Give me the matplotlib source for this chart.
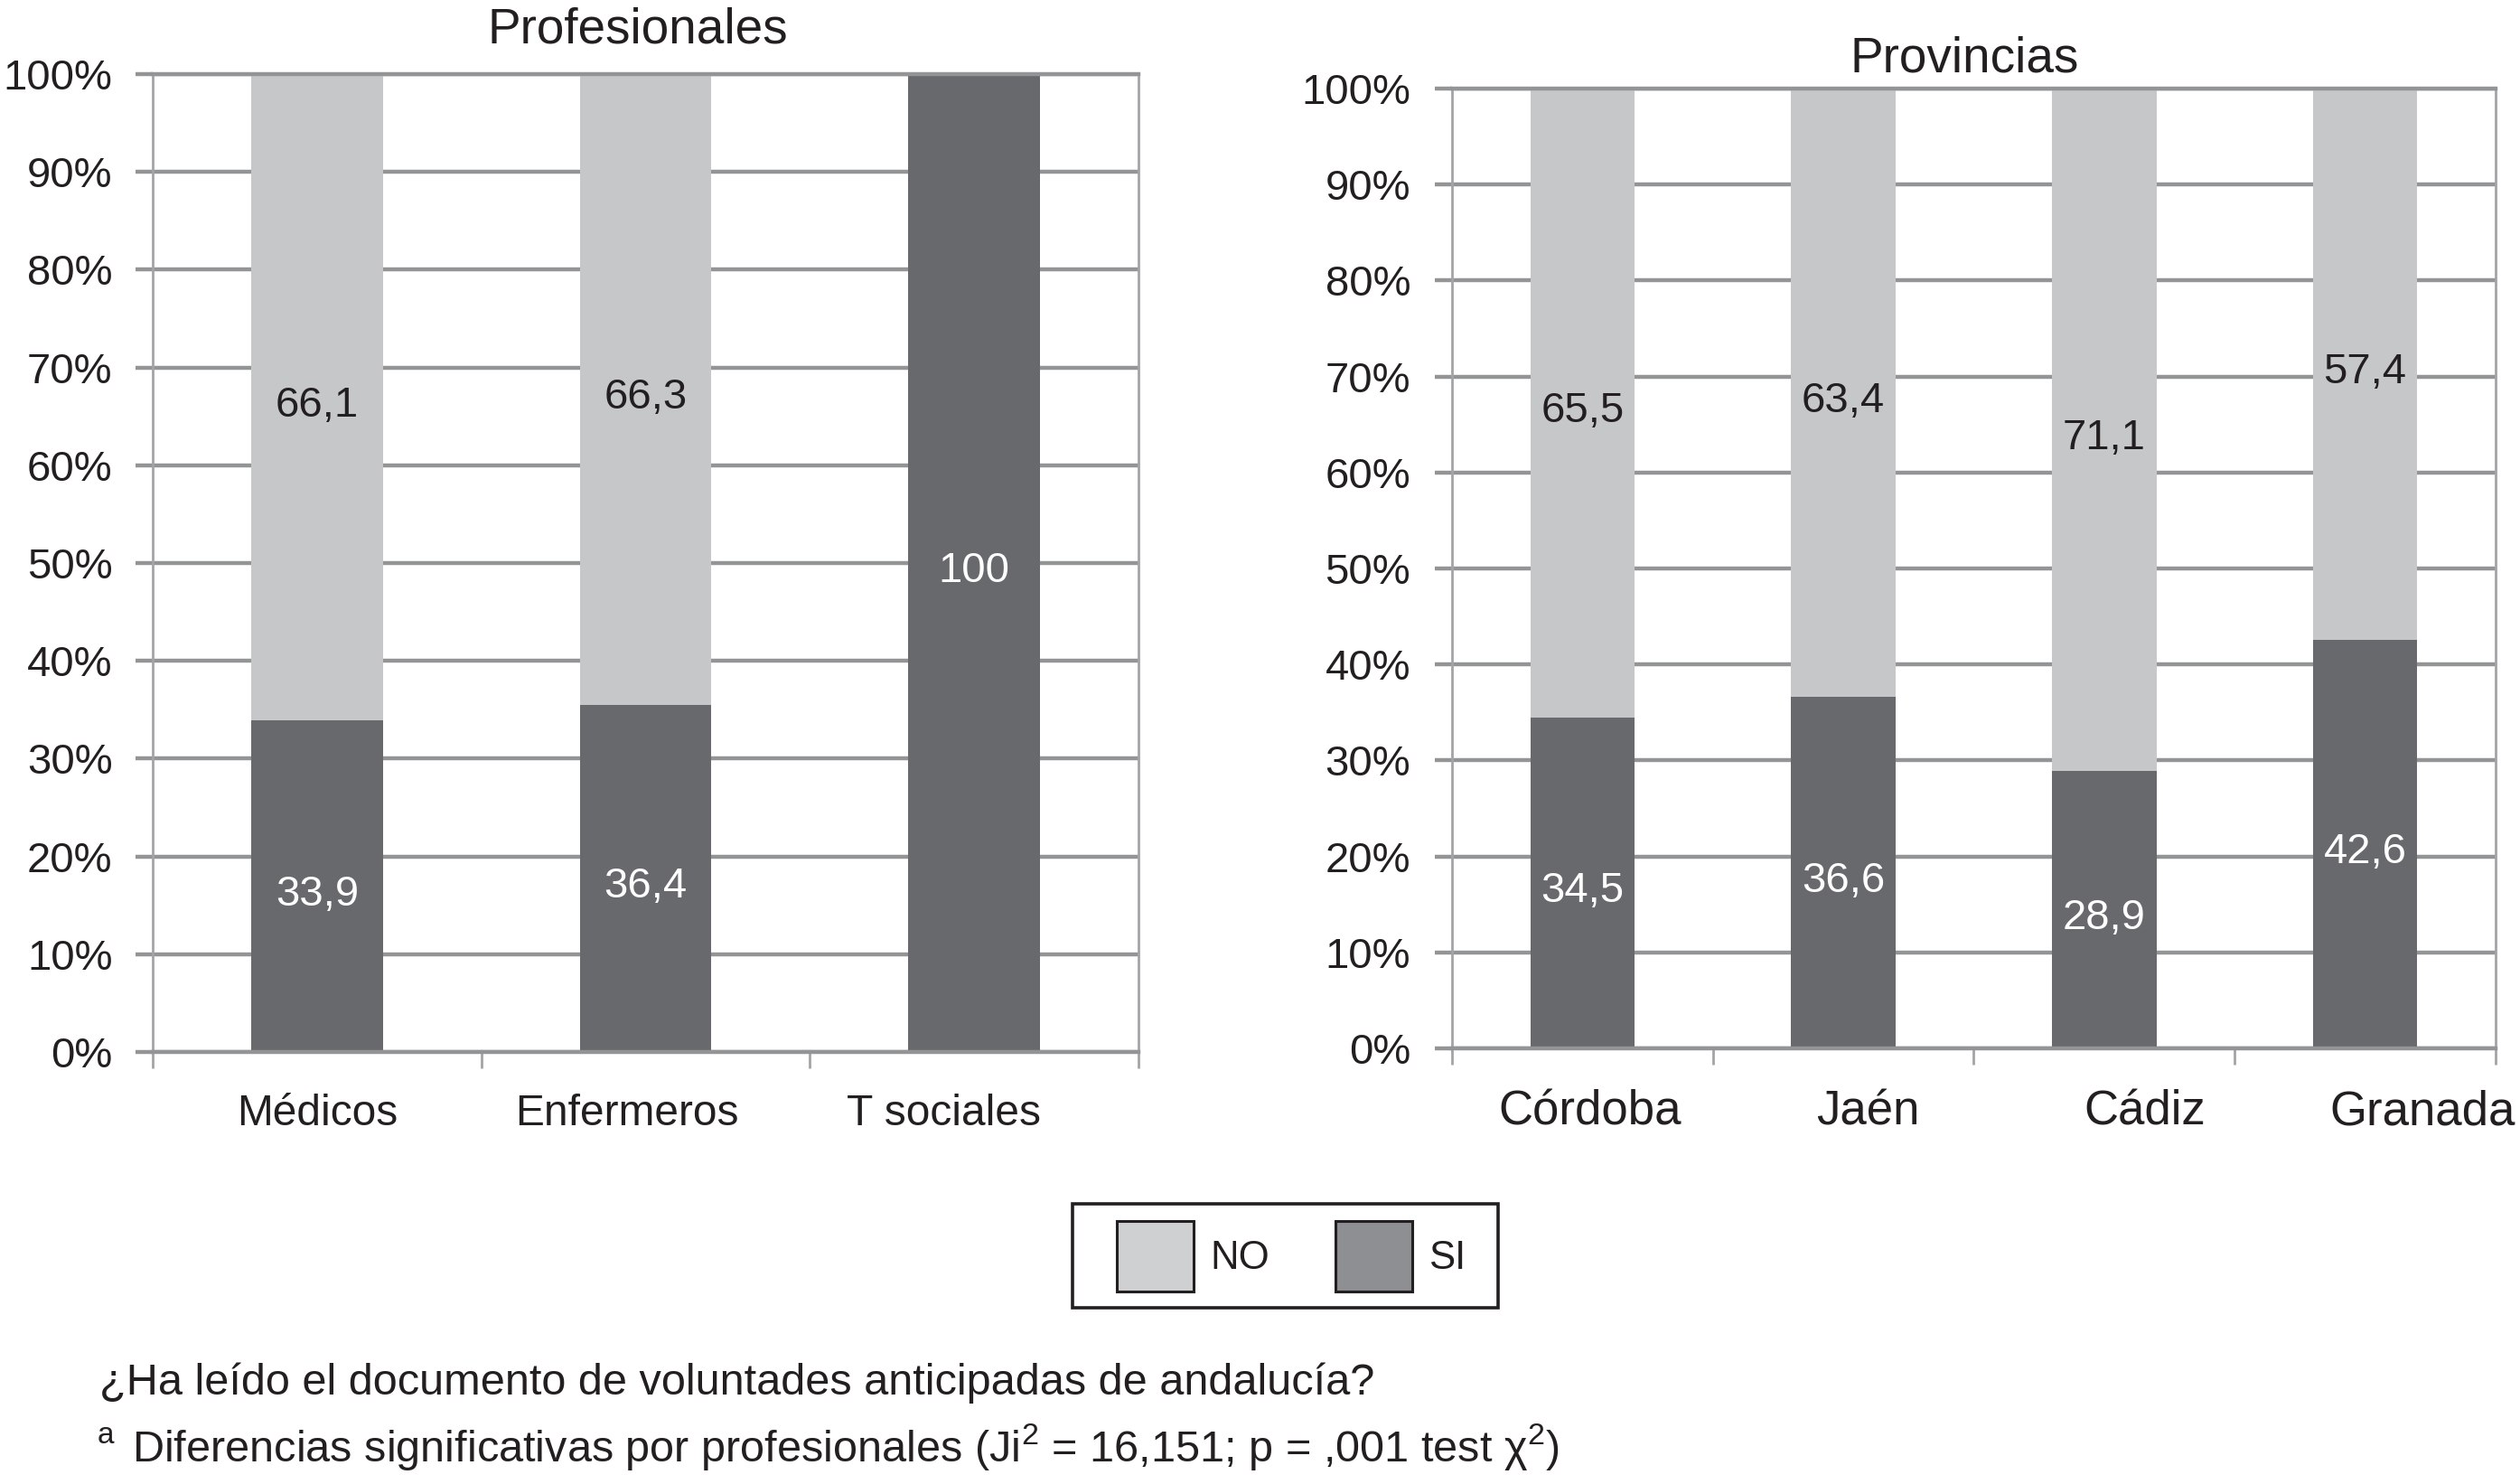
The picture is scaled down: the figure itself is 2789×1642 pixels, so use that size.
import matplotlib
matplotlib.use('Agg')
import matplotlib.pyplot as plt
import numpy as np
from matplotlib.patches import Patch, Rectangle

plt.rcParams['font.family'] = ['Liberation Sans', 'DejaVu Sans']
plt.rcParams['mathtext.fontset'] = 'custom'
plt.rcParams['mathtext.rm'] = 'Liberation Sans'
plt.rcParams['mathtext.it'] = 'Liberation Sans:italic'

# ---- data ----
prof_cats = ['Médicos', 'Enfermeros', 'T sociales']
prof_si = [33.9, 36.4, 100]
prof_no = [66.1, 66.3, 0]

prov_cats = ['Córdoba', 'Jaén', 'Cádiz', 'Granada']
prov_si = [34.5, 36.6, 28.9, 42.6]
prov_no = [65.5, 63.4, 71.1, 57.4]

y_ticks = [0, 10, 20, 30, 40, 50, 60, 70, 80, 90, 100]
y_labels = ['0%', '10%', '20%', '30%', '40%', '50%', '60%', '70%', '80%', '90%', '100%']

legend_labels = ['NO', 'SI']
title_prof = 'Profesionales'
title_prov = 'Provincias'
note1 = '¿Ha leído el documento de voluntades anticipadas de andalucía?'
note2 = 'Diferencias significativas por profesionales (Ji$^{2}$ = 16,151; p = ,001 test χ$^{2}$)'

# ---- style ----
C_NO = '#c6c7c9'
C_SI = '#68696d'
C_LEG_NO = '#cfd0d2'
C_LEG_SI = '#8e8f92'
C_GRID = '#939496'
C_SPINE = '#a3a4a6'
C_TEXT = '#231f20'

W, H = 2789, 1642
fig = plt.figure(figsize=(W / 100, H / 100), dpi=100)


def fmt(v):
    return ('%g' % v).replace('.', ',')


def draw(ax, cats, si, no, cat_fs, label_shift, ylab_pad):
    n = len(cats)
    x = np.arange(n)
    si = np.array(si, float)
    no = np.array(no, float)
    tot = si + no
    p_si = si / tot * 100
    p_no = no / tot * 100
    w = 0.4
    ax.bar(x, p_si, w, color=C_SI, zorder=2)
    ax.bar(x, p_no, w, bottom=p_si, color=C_NO, zorder=2)
    for i in range(n):
        if si[i] > 0:
            ax.annotate(fmt(si[i]), (x[i], p_si[i] / 2), xytext=(0, -6.5),
                        textcoords='offset points', ha='center', va='center',
                        color='white', fontsize=34, zorder=3)
        if no[i] > 0:
            ax.annotate(fmt(no[i]), (x[i], p_si[i] + p_no[i] / 2), xytext=(0, -6.5),
                        textcoords='offset points', ha='center', va='center',
                        color=C_TEXT, fontsize=34, zorder=3)
    ax.set_xlim(-0.5, n - 0.5)
    ax.set_ylim(0, 100)
    ax.set_yticks(y_ticks)
    ax.set_yticklabels(y_labels, fontsize=34, color=C_TEXT)
    ax.yaxis.grid(True, color=C_GRID, lw=3.2, zorder=0)
    ax.set_axisbelow(True)
    ax.tick_params(axis='y', length=14, width=3.2, color=C_GRID, pad=ylab_pad)
    ax.set_xticks(np.arange(n + 1) - 0.5)
    ax.set_xticklabels([''] * (n + 1))
    ax.tick_params(axis='x', which='major', length=13, width=2, color=C_SPINE)
    ax.set_xticks(x + np.array(label_shift), minor=True)
    ax.set_xticklabels(cats, minor=True, fontsize=cat_fs, color=C_TEXT)
    ax.tick_params(axis='x', which='minor', length=0, pad=33)
    for s in ['left', 'right']:
        ax.spines[s].set_color(C_SPINE)
        ax.spines[s].set_linewidth(2)
    for s in ['top', 'bottom']:
        ax.spines[s].set_color(C_GRID)
        ax.spines[s].set_linewidth(3.2)
    ax.spines['top'].set_zorder(4)


ax1 = fig.add_axes([0.0606, 0.2911, 0.3912, 0.659])
draw(ax1, prof_cats, prof_si, prof_no, 34.5, [0.0, -0.058, -0.093], 18)
ax2 = fig.add_axes([0.5762, 0.2935, 0.4141, 0.6468])
draw(ax2, prov_cats, prov_si, prov_no, 38, [0.028, 0.093, 0.156, 0.221], 19)

fig.text(706 / W, 1 - 34 / H, title_prof, ha='center', va='center', fontsize=39.5, color=C_TEXT)
fig.text(2174 / W, 1 - 65 / H, title_prov, ha='center', va='center', fontsize=39.5, color=C_TEXT)

# legend (frame drawn separately so the inner margins match)
handles = [Patch(facecolor=C_LEG_NO, edgecolor='#231f20', lw=2.2),
           Patch(facecolor=C_LEG_SI, edgecolor='#231f20', lw=2.2)]
leg = fig.legend(handles, legend_labels, loc='center left',
                 bbox_to_anchor=(1236 / W, 1 - 1390 / H),
                 ncol=2, fontsize=31.5, frameon=False,
                 handlelength=1.95, handleheight=2.35, handletextpad=0.42,
                 columnspacing=1.65, borderpad=0, borderaxespad=0)
for t in leg.get_texts():
    t.set_color(C_TEXT)
fig.patches.append(Rectangle((1187 / W, 1 - 1447 / H), (1658 - 1187) / W, (1447 - 1332) / H,
                             transform=fig.transFigure, fill=False,
                             edgecolor='#231f20', lw=2.6))

fig.text(110 / W, 1 - 1530 / H, note1, ha='left', va='center', fontsize=35, color=C_TEXT)
fig.text(108 / W, 1 - 1588 / H, 'a', ha='left', va='center', fontsize=24, color=C_TEXT)
fig.text(146 / W, 1 - 1601 / H, note2, ha='left', va='center', fontsize=35, color=C_TEXT)

fig.savefig('out.png', dpi=100, facecolor='white')
